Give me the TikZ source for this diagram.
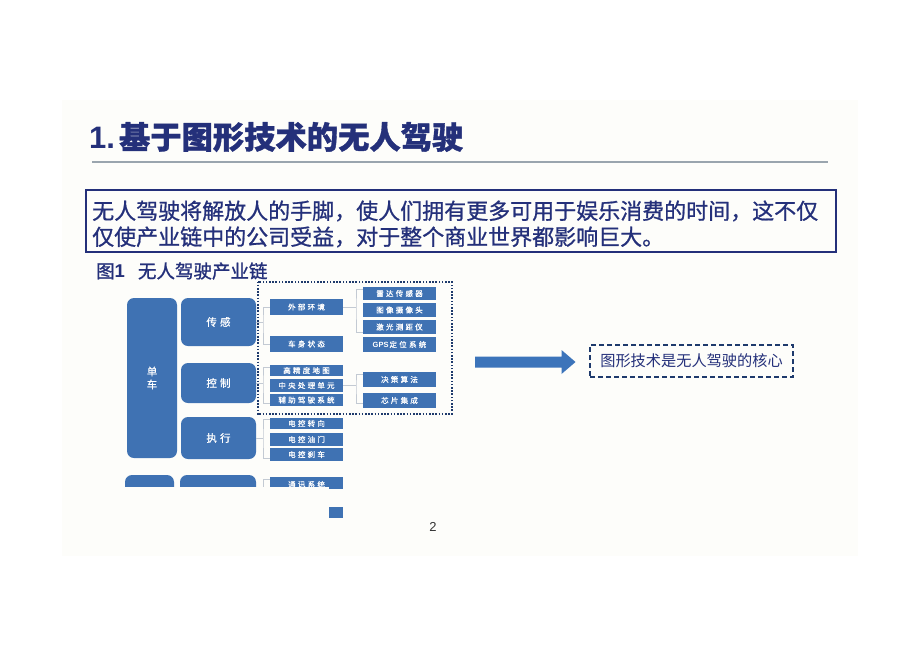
\documentclass[tikz,border=0pt]{standalone}
\usepackage{fontspec}
\setmainfont{Liberation Sans}
\newfontfamily\cjk{Noto Sans CJK SC}
\newfontfamily\cjkb{Noto Sans CJK SC}[FakeBold=1.1]
\newfontfamily\cjkbody{Noto Sans CJK SC}[FakeBold=0.9]
\newfontfamily\cjkbox{Noto Sans CJK SC}[LetterSpace=30,FakeBold=0.8]
\definecolor{navy}{HTML}{24307A}
\definecolor{boxblue}{HTML}{3F72B3}
\definecolor{arrowblue}{HTML}{3C74BA}
\definecolor{rulegray}{HTML}{9AA5AE}
\definecolor{conngray}{HTML}{C3CAD3}
\definecolor{dotnavy}{HTML}{1E3A6C}
\definecolor{panel}{HTML}{FDFDFA}
\tikzset{
  sbx/.style={fill=boxblue, text=white, inner sep=0pt, minimum width=73pt,
    font=\cjkbox\fontsize{7.5}{8}\selectfont},
  bigbx/.style={fill=boxblue, text=white, inner sep=0pt, rounded corners=7pt,
    align=center, font=\cjkbox\fontsize{10.5}{13}\selectfont},
  conn/.style={draw=conngray, line width=0.8pt},
}
\begin{document}
\begin{tikzpicture}[x=1pt,y=-1pt]
\useasboundingbox (0,0) rectangle (920,651);
\fill[white] (0,0) rectangle (920,651);
\fill[panel] (62,100) rectangle (858,556);

% title
\node[anchor=west, text=navy, inner sep=0pt] (title) at (89,137)
  {\fontsize{31}{34}\selectfont\bfseries 1.\kern4pt{\cjkb\fontsize{31.3}{34}\selectfont 基于图形技术的无人驾驶}};
\draw[rulegray, line width=2pt] (92,162) -- (828,162);

% text box
\draw[navy, line width=1.3pt] (86,190) rectangle (836,252);
\node[anchor=west, text=navy, inner sep=0pt, font=\cjkbody\fontsize{22}{24}\selectfont] (l1) at (92,211)
  {无人驾驶将解放人的手脚，使人们拥有更多可用于娱乐消费的时间，这不仅};
\node[anchor=west, text=navy, inner sep=0pt, font=\cjkbody\fontsize{22}{24}\selectfont] (l2) at (92,237)
  {仅使产业链中的公司受益，对于整个商业世界都影响巨大。};

% caption
\node[anchor=west, text=navy, inner sep=0pt] (cap) at (96,271)
  {{\cjkb\fontsize{18.5}{20}\selectfont 图}{\fontsize{18.5}{20}\selectfont\bfseries 1}\hspace{13pt}{\cjkb\fontsize{18.5}{20}\selectfont 无人驾驶产业链}};

% left column
\node[bigbx, minimum width=50pt, minimum height=160pt] (dc) at (152,378) {单\\车};
\node[bigbx, minimum width=75pt, minimum height=48pt] (cg) at (218.5,322) {传感};
\node[bigbx, minimum width=75pt, minimum height=40pt] (kz) at (218.5,383) {控制};
\node[bigbx, minimum width=75pt, minimum height=42pt] (zx) at (218.5,438) {执行};

% third column
\node[sbx, minimum height=16pt] (wb) at (306.5,307) {外部环境};
\node[sbx, minimum height=16pt] (cs) at (306.5,344) {车身状态};
\node[sbx, minimum height=11.5pt] (gj) at (306.5,370.5) {高精度地图};
\node[sbx, minimum height=12.5pt] (zy) at (306.5,385.5) {中央处理单元};
\node[sbx, minimum height=12pt] (fz) at (306.5,400) {辅助驾驶系统};
\node[sbx, minimum height=11.5pt] (zz) at (306.5,423.5) {电控转向};
\node[sbx, minimum height=12.5pt] (zy2) at (306.5,439.5) {电控油门};
\node[sbx, minimum height=12.5pt] (zs) at (306.5,454.5) {电控刹车};

% fourth column
\node[sbx, minimum height=13.5pt] (ld) at (399.5,293.5) {雷达传感器};
\node[sbx, minimum height=14pt] (tx) at (399.5,310) {图像摄像头};
\node[sbx, minimum height=14pt] (jg) at (399.5,327) {激光测距仪};
\node[sbx, minimum height=14.5pt] (gps) at (399.5,344.5) {{\rmfamily\bfseries\fontsize{7.5}{8}\selectfont GPS}\kern1pt 定位系统};
\node[sbx, minimum height=15pt] (jc) at (399.5,379.5) {决策算法};
\node[sbx, minimum height=15pt] (xp) at (399.5,400.5) {芯片集成};

% connectors
\coordinate (k1) at (263,322);
\draw[conn] (cg.east) -- (k1);
\draw[conn] (wb.west) -| (k1) |- (cs.west);
\coordinate (k2) at (356,307);
\draw[conn] (wb.east) -- (k2);
\draw[conn] ([yshift=4pt]ld.west) -| (k2) |- ([yshift=-5pt]jg.west);
\coordinate (k3) at (263,383);
\draw[conn] (kz.east) -- (k3);
\draw[conn] ([yshift=3pt]gj.west) -| (k3) |- ([yshift=-3pt]fz.west);
\coordinate (k4) at (356,385.5);
\draw[conn] (zy.east) -- (k4);
\draw[conn] ([yshift=5pt]jc.west) -| (k4) |- ([yshift=-3pt]xp.west);
\coordinate (k5) at (263,438);
\draw[conn] (zx.east) -- (k5);
\draw[conn] ([yshift=4pt]zz.west) -| (k5) |- ([yshift=-4pt]zs.west);

% dotted group
\draw[dotnavy, line width=2pt, dash pattern=on 1.6pt off 1.6pt] (257.5,281.5) rectangle (451.5,414);

% cut-off bottom row
\begin{scope}
\clip (100,470) rectangle (345,486);
\node[bigbx, minimum width=49pt, minimum height=40pt] (b1) at (149.5,495) {};
\node[bigbx, minimum width=76pt, minimum height=40pt] (b2) at (218,495) {};
\node[sbx, minimum height=15pt] (txx) at (306.5,484.5) {通讯系统};
\coordinate (k6) at (263,500);
\draw[conn] ([yshift=5pt]txx.west) -| (k6);
\end{scope}
\fill[boxblue] (329,485) rectangle (343,489);
\fill[boxblue] (329,507) rectangle (343,518);

% arrow and core box
\fill[arrowblue] (475,356.5) -- (561.5,356.5) -- (561.5,350) -- (575.5,362) -- (561.5,374) -- (561.5,367.5) -- (475,367.5) -- cycle;
\node[draw=dotnavy, dash pattern=on 5pt off 3pt, line width=1.8pt, minimum width=203pt, minimum height=32pt,
  inner sep=0pt, text=navy, font=\cjk\fontsize{15.2}{16}\selectfont] (core) at (691.5,361) {图形技术是无人驾驶的核心};

\node[font=\fontsize{13}{14}\selectfont, text=black!80, inner sep=0pt] (pg) at (433,527) {2};
\end{tikzpicture}
\end{document}
